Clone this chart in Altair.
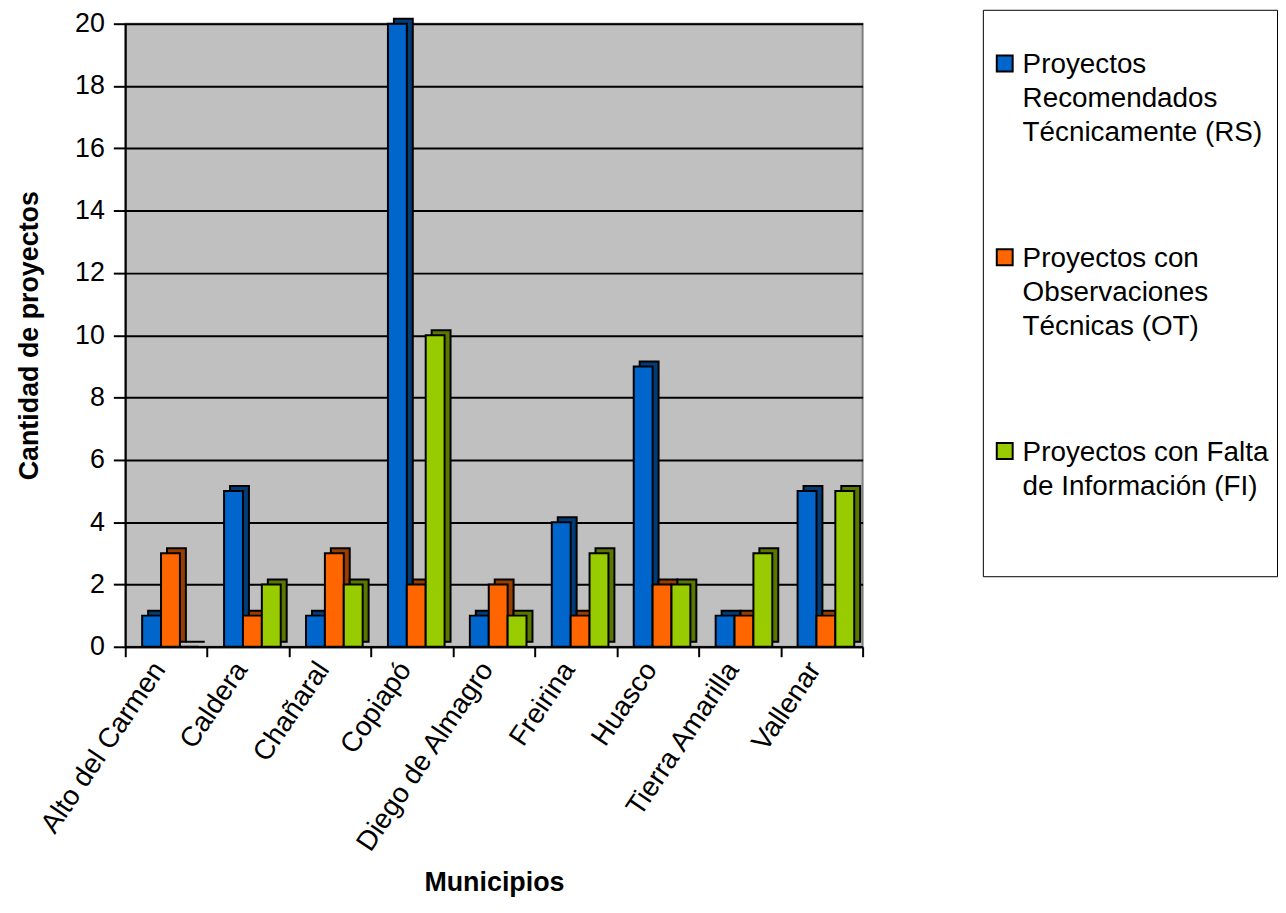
import altair as alt
import pandas as pd

municipios = ["Alto del Carmen", "Caldera", "Chañaral", "Copiapó", "Diego de Almagro",
              "Freirina", "Huasco", "Tierra Amarilla", "Vallenar"]
series = ["Proyectos\nRecomendados\nTécnicamente (RS)",
          "Proyectos con\nObservaciones\nTécnicas (OT)",
          "Proyectos con Falta\nde Información (FI)\n \n "]
rs = [1, 5, 1, 20, 1, 4, 9, 1, 5]
ot = [3, 1, 3, 2, 2, 1, 2, 1, 1]
fi = [0, 2, 2, 10, 1, 3, 2, 3, 5]
colors = ["#0066CC", "#FF6600", "#99CC00"]
darks = ["#003C78", "#993D00", "#5A7800"]

rows = []
for vals, s, d in zip([rs, ot, fi], series, darks):
    for m, v in zip(municipios, vals):
        rows.append({"Municipio": m, "Serie": s, "Valor": v, "Oscuro": d})
df = pd.DataFrame(rows)

FONT = "Liberation Sans"

x = alt.X("Municipio:N", sort=municipios,
          scale=alt.Scale(paddingInner=0, paddingOuter=0),
          axis=alt.Axis(title="Municipios", labelAngle=-56, labelFontSize=28,
                        labelFont=FONT, labelColor="black", labelLimit=400,
                        labelOffset=-7,
                        titleFont=FONT,
                        titleFontSize=27, titleFontWeight="bold", titleColor="black",
                        titleY=245, titleBaseline="alphabetic",
                        tickSize=10, tickColor="black", tickWidth=2, tickBand="extent",
                        domainColor="black", domainWidth=2, grid=False,
                        labelPadding=8))
y = alt.Y("Valor:Q", scale=alt.Scale(domain=[0, 20]),
          axis=alt.Axis(title="Cantidad de proyectos", values=list(range(0, 21, 2)),
                        labelFontSize=27, labelFont=FONT, labelColor="black",
                        titleFont=FONT, titleFontSize=27, titleFontWeight="bold",
                        titleColor="black", titleX=-96, titleBaseline="middle",
                        tickSize=12, tickColor="black", tickWidth=2,
                        domainColor="black", domainWidth=2,
                        gridColor="black", gridWidth=2, gridOpacity=1,
                        labelPadding=9))

back = alt.Chart(df).mark_bar(yOffset=-5, stroke="black", strokeWidth=2).encode(
    x=x, y=y,
    xOffset=alt.XOffset("Serie:N", sort=series,
                        scale=alt.Scale(range=[23, 80], paddingInner=0, paddingOuter=0)),
    color=alt.Color("Oscuro:N", scale=None, legend=None))

square = "M-1,-2.25H1V-0.25H-1Z"
front = alt.Chart(df).mark_bar(stroke="black", strokeWidth=2).encode(
    x=x, y=y,
    xOffset=alt.XOffset("Serie:N", sort=series,
                        scale=alt.Scale(range=[17, 74], paddingInner=0, paddingOuter=0)),
    color=alt.Color("Serie:N", sort=series,
                    scale=alt.Scale(domain=series, range=colors),
                    legend=alt.Legend(title=" ", titleFontSize=20, titlePadding=22,
                                      orient="none", legendX=863, legendY=-14,
                                      labelExpr="split(datum.label, '\\n')",
                                      labelFont=FONT, labelFontSize=28, labelColor="black",
                                      labelLimit=400, symbolType=square, symbolSize=256,
                                      symbolStrokeColor="black", symbolStrokeWidth=2,
                                      strokeColor="black", padding=8,
                                      rowPadding=99, labelBaseline="alphabetic",
                                      labelOffset=4)))

chart = alt.layer(back, front).resolve_scale(color="independent", xOffset="independent").properties(
    width=742, height=627,
    autosize=alt.AutoSizeParams(type="none"),
    padding={"left": 118, "top": 13, "right": 418, "bottom": 250},
    background="white",
)
chart.config = alt.Config(
    view=alt.ViewConfig(fill="#C0C0C0", stroke="#808080", strokeWidth=2),
    style={"guide-label": {"lineHeight": 34}},
)

chart.save("out.html", embed_options={"renderer": "svg", "actions": False})
